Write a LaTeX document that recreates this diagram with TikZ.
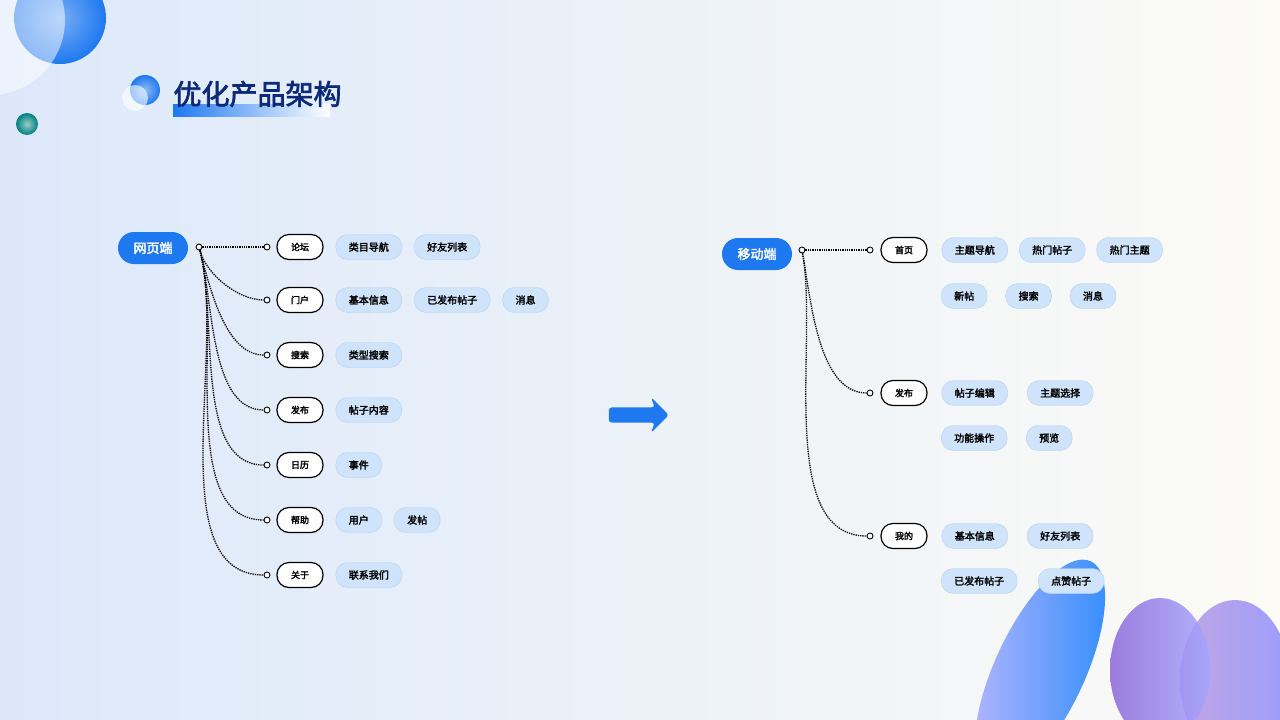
\documentclass[tikz,border=0pt]{standalone}
\usepackage{fontspec}
\setmainfont{Noto Sans CJK SC}[AutoFakeBold=2.5]
\usetikzlibrary{positioning,shapes.arrows}
\definecolor{rootblue}{HTML}{1E78F0}
\definecolor{leafblue}{HTML}{CFE4FA}
\definecolor{leafedge}{HTML}{B4D2F2}
\definecolor{navy}{HTML}{0C2A78}
\definecolor{bgblue}{HTML}{DCE8FA}
\definecolor{bgcream}{HTML}{FCFBF6}
\tikzset{
  root/.style={rounded corners=16pt,fill=rootblue,text=white,minimum width=70pt,minimum height=32pt,font=\bfseries\fontsize{13}{13}\selectfont},
  cat/.style={rounded corners=12pt,draw=black,line width=1.2pt,fill=white,minimum width=46pt,minimum height=25pt,font=\bfseries\fontsize{9}{9}\selectfont},
  leaf/.style={rounded corners=12pt,draw=leafedge,fill=leafblue,minimum height=25pt,inner xsep=13pt,font=\bfseries\fontsize{10}{10}\selectfont},
  dot/.style={circle,draw=black,line width=0.9pt,fill=white,inner sep=0pt,minimum size=6pt},
  link/.style={densely dotted,line width=1.3pt}
}
\begin{document}
\begin{tikzpicture}[x=1pt,y=-1pt]
  % background
  \shade[left color=bgblue,right color=bgcream] (0,0) rectangle (1280,720);
  \useasboundingbox (0,0) rectangle (1280,720);
  % decorations
  \shade[inner color=rootblue!60,outer color=rootblue] (60,18) circle (46);
  \fill[white,opacity=0.5] (-10,20) circle (75);
  \shade[inner color=teal!40,outer color=teal] (27,124) circle (11);
  \shade[left color=blue!35,right color=blue!55!cyan,opacity=0.8,rotate around={-25:(1040,670)}] (1040,670) ellipse (45 and 120);
  \shade[left color=blue!40!violet!40,right color=blue!45,opacity=0.85] (1235,680) ellipse (55 and 80);
  \shade[left color=blue!50!violet!60,right color=blue!35,opacity=0.85] (1160,670) ellipse (50 and 72);
  % title
  \shade[left color=rootblue,right color=rootblue!0] (173,104) rectangle (330,116);
  \shade[inner color=rootblue!50,outer color=rootblue] (145,90) circle (15);
  \fill[white,opacity=0.6] (135,98) circle (13);
  \node[anchor=west,text=navy,font=\bfseries\fontsize{28}{28}\selectfont] (title) at (170,94) {优化产品架构};
  % arrow
  \node[single arrow,fill=rootblue,minimum height=60pt,minimum width=36pt,single arrow head extend=3pt,single arrow head indent=4pt,inner sep=2pt,rounded corners=3pt] (go) at (635,415) {};
  % web
  \node[root] (web) at (153,248) {网页端};
  \node[dot] (webd) at (199,247) {};
  \foreach \name/\txt/\y in {forum/论坛/247,portal/门户/300,search/搜索/355,post/发布/410,cal/日历/465,help/帮助/520,about/关于/575}{
    \node[cat] (\name) at (300,\y) {\txt};
    \node[dot] (\name d) at (267,\y) {};
  }
  \draw[link] (webd) -- (forumd);
  \foreach \name in {portal,search,post,cal,help,about}
    \draw[link] (webd) to[out=-75,in=180,looseness=0.8] (\name d);
  \node[leaf,right=12pt of forum] (f1) {类目导航};
  \node[leaf,right=12pt of f1] (f2) {好友列表};
  \node[leaf,right=12pt of portal] (p1) {基本信息};
  \node[leaf,right=12pt of p1] (p2) {已发布帖子};
  \node[leaf,right=12pt of p2] (p3) {消息};
  \node[leaf,right=12pt of search] (s1) {类型搜索};
  \node[leaf,right=12pt of post] (o1) {帖子内容};
  \node[leaf,right=12pt of cal] (c1) {事件};
  \node[leaf,right=12pt of help] (h1) {用户};
  \node[leaf,right=12pt of h1] (h2) {发帖};
  \node[leaf,right=12pt of about] (a1) {联系我们};
  % mobile
  \node[root] (app) at (757,254) {移动端};
  \node[dot] (appd) at (802,250) {};
  \foreach \name/\txt/\y in {home/首页/250,send/发布/393,mine/我的/536}{
    \node[cat] (\name) at (904,\y) {\txt};
    \node[dot] (\name d) at (870,\y) {};
  }
  \draw[link] (appd) -- (homed);
  \foreach \name in {send,mine}
    \draw[link] (appd) to[out=-80,in=180,looseness=0.8] (\name d);
  \node[leaf,right=14pt of home] (m1) {主题导航};
  \node[leaf,right=11pt of m1] (m2) {热门帖子};
  \node[leaf,right=11pt of m2] (m3) {热门主题};
  \node[leaf,anchor=west] (m4) at (941,296) {新帖};
  \node[leaf,right=18pt of m4] (m5) {搜索};
  \node[leaf,right=18pt of m5] (m6) {消息};
  \node[leaf,right=14pt of send] (n1) {帖子编辑};
  \node[leaf,right=19pt of n1] (n2) {主题选择};
  \node[leaf,anchor=west] (n3) at (941,438) {功能操作};
  \node[leaf,anchor=west] (n4) at (1026,438) {预览};
  \node[leaf,right=14pt of mine] (k1) {基本信息};
  \node[leaf,right=19pt of k1] (k2) {好友列表};
  \node[leaf,anchor=west] (k3) at (941,581) {已发布帖子};
  \node[leaf,anchor=west] (k4) at (1038,581) {点赞帖子};
\end{tikzpicture}
\end{document}
